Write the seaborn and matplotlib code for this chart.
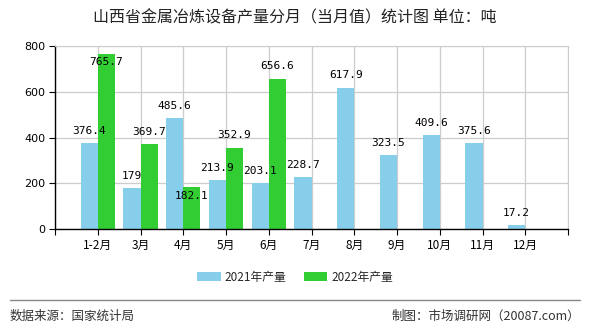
import matplotlib
matplotlib.use("Agg")
import matplotlib.pyplot as plt
from matplotlib.lines import Line2D
from matplotlib.patches import Patch
import seaborn as sns
import pandas as pd
import numpy as np

months = ["1-2月", "3月", "4月", "5月", "6月", "7月", "8月", "9月", "10月", "11月", "12月"]
vals_2021 = [376.4, 179, 485.6, 213.9, 203.1, 228.7, 617.9, 323.5, 409.6, 375.6, 17.2]
vals_2022 = [765.7, 369.7, 182.1, 352.9, 656.6, None, None, None, None, None, None]
series = ["2021年产量", "2022年产量"]
colors = ["#87CEEB", "#32CD32"]
title = "山西省金属冶炼设备产量分月（当月值）统计图 单位：吨"
source = "数据来源：国家统计局"
maker = "制图：市场调研网（20087.com）"
yticks = [0, 200, 400, 600, 800]

sns.set_style("white")
plt.rcParams["font.family"] = ["Noto Sans CJK SC", "DejaVu Sans"]

rows = []
for m, a, b in zip(months, vals_2021, vals_2022):
    rows.append({"month": m, "series": series[0], "value": a})
    rows.append({"month": m, "series": series[1], "value": (np.nan if b is None else b)})
df = pd.DataFrame(rows)

fig = plt.figure(figsize=(5.9, 3.3), dpi=100)
ax = fig.add_axes([55 / 590, 1 - 229 / 330, (568 - 55) / 590, (229 - 46) / 330])

sns.barplot(data=df, x="month", y="value", hue="series", order=months,
            hue_order=series, palette=colors, width=0.8, ax=ax,
            saturation=1, legend=False, errorbar=None, linewidth=0, edgecolor="none")

ax.set_xlim(-1, 11)
ax.set_ylim(0, 800)
ax.set_yticks(yticks)
ax.set_yticklabels([str(v) for v in yticks], fontsize=8, family="DejaVu Sans")
ax.set_xticks(range(-1, 12))
ax.set_xticklabels([""] + months + [""], fontsize=8.5)
ax.set_xlabel("")
ax.set_ylabel("")
ax.grid(True, color="#cccccc", lw=0.9)
ax.set_axisbelow(True)
for s in ["top", "right"]:
    ax.spines[s].set_color("#cccccc")
for s in ["left", "bottom"]:
    ax.spines[s].set_color("#000000")
    ax.spines[s].set_linewidth(1.0)
ax.tick_params(axis="both", direction="out", length=4, width=0.8, color="#000000",
               labelcolor="#000000", pad=3, bottom=True, left=True)

# data labels (pixel offsets of label centre relative to bar top)
offsets = {0: [12, 12, 12, 12, 12, 12, 13, 12, 12, 12, 12],
           1: [-8, 12, -9, 13, 13]}
for si, cont in enumerate(ax.containers):
    vals = vals_2021 if si == 0 else vals_2022
    k = 0
    for p, v in zip(cont.patches, vals):
        if v is None:
            continue
        x = p.get_x() + p.get_width() / 2
        txt = ("%g" % v)
        ax.annotate(txt, (x, v), xytext=(0, offsets[si][k]), textcoords="offset pixels",
                    ha="center", va="center", fontsize=8, family="DejaVu Sans Mono",
                    color="#000000", annotation_clip=False)
        k += 1

fig.text(0.5, 1 - 18 / 330, title, ha="center", va="center", fontsize=11.5, color="#222222")

handles = [Patch(facecolor=c, edgecolor="none") for c in colors]
fig.legend(handles, series, loc="center", bbox_to_anchor=(0.5, 1 - 277 / 330), ncol=2,
           frameon=False, fontsize=8.5, handlelength=2.0, handleheight=0.9,
           columnspacing=1.5, handletextpad=0.3)

fig.add_artist(Line2D([10 / 590, 580 / 590], [1 - 300 / 330] * 2, color="#888888", lw=1))
fig.text(10 / 590, 1 - 316 / 330, source, ha="left", va="center", fontsize=9, color="#333333")
fig.text(580 / 590, 1 - 316 / 330, maker, ha="right", va="center", fontsize=9, color="#333333")

fig.savefig("out.png", dpi=100)
